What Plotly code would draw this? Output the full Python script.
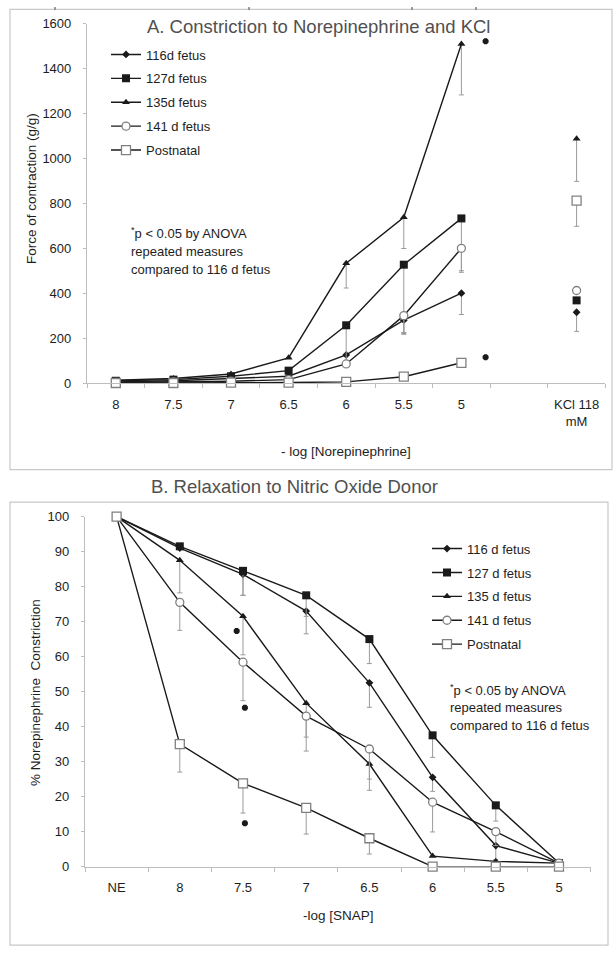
import plotly.graph_objects as go

# ---------------- data ----------------
# Panel A: force of contraction (g/g) vs -log[norepinephrine], plus KCl 118 mM
ne_labels = ["8", "7.5", "7", "6.5", "6", "5.5", "5", "", "KCl 118<br>mM"]
series_names_a = ["116d fetus", "127d fetus", "135d fetus", "141 d fetus", "Postnatal"]
force_116 = [5, 10, 20, 30, 125, 280, 400, None, 315]
force_127 = [10, 15, 30, 55, 257, 527, 733, None, 368]
force_135 = [12, 20, 40, 112, 533, 738, 1510, None, 1088]
force_141 = [3, 5, 8, 15, 85, 300, 600, None, 412]
force_post = [0, 0, 2, 2, 5, 28, 90, None, 812]
err_116 = [0, 0, 0, 0, 0, 55, 95, 0, 85]
err_127 = [0, 0, 0, 0, 160, 310, 240, 0, 0]
err_135 = [0, 0, 0, 0, 110, 139, 227, 0, 190]
err_141 = [0, 0, 0, 0, 0, 80, 100, 0, 0]
err_post = [0, 0, 0, 0, 0, 0, 0, 0, 114]
sig_a_x = [6.42, 6.42]
sig_a_y = [1522, 115]

# Panel B: % norepinephrine constriction vs -log[SNAP]
snap_labels = ["NE", "8", "7.5", "7", "6.5", "6", "5.5", "5"]
series_names_b = ["116 d fetus", "127 d fetus", "135 d fetus", "141 d fetus", "Postnatal"]
pct_116 = [100, 91, 83.5, 73, 52.5, 25.5, 6, 1]
pct_127 = [100, 91.5, 84.5, 77.5, 65, 37.5, 17.5, 1]
pct_135 = [100, 87.5, 71.5, 46.7, 29.3, 3, 1.5, 1]
pct_141 = [100, 75.5, 58.4, 43, 33.6, 18.4, 10, 1]
pct_post = [100, 35, 23.8, 16.8, 8.1, 0, 0, 0]
perr_116 = [0, 0, 6, 6.5, 7, 4, 4, 0]
perr_127 = [0, 0, 7, 6, 7, 6.3, 4.5, 0]
perr_135 = [0, 9.3, 11, 9.7, 7.5, 0, 0, 0]
perr_141 = [0, 8, 11, 10, 8.6, 8.5, 4, 0]
perr_post = [0, 8, 8.5, 7.5, 4.5, 0, 0, 0]
sig_b_x = [1.90, 2.03, 2.03]
sig_b_y = [67.3, 45.4, 12.4]

note_lines = ["<sup>*</sup>p < 0.05 by ANOVA", "repeated measures", "compared to 116 d fetus"]

# ---------------- styling ----------------
W, H = 613, 956
FONT = "Liberation Sans, Arial, sans-serif"
AXIS_GREY = "#bdbdbd"
ERR_GREY = "#9a9a9a"
INK = "#1a1a1a"
TEXT = "#1e1e1e"


def fx(px):
    return px / W


def fy(py):
    return 1 - py / H


styles = [
    dict(symbol="diamond", size=6, color=INK, line=dict(color=INK, width=0)),
    dict(symbol="square", size=8, color=INK, line=dict(color=INK, width=0)),
    dict(symbol="triangle-up", size=7, color=INK, line=dict(color=INK, width=0)),
    dict(symbol="circle", size=8, color="white", line=dict(color="#808080", width=1.3)),
    dict(symbol="square", size=9, color="white", line=dict(color="#808080", width=1.3)),
]

fig = go.Figure()

a_vals = [force_116, force_127, force_135, force_141, force_post]
a_errs = [err_116, err_127, err_135, err_141, err_post]
for i, (name, vals, errs) in enumerate(zip(series_names_a, a_vals, a_errs)):
    fig.add_trace(go.Scatter(
        x=list(range(len(ne_labels))), y=vals, name=name,
        mode="lines+markers", connectgaps=False,
        line=dict(color=INK, width=1.4), marker=styles[i],
        error_y=dict(type="data", symmetric=False, array=[0] * len(errs), arrayminus=errs,
                     color=ERR_GREY, thickness=1, width=2.5),
        xaxis="x", yaxis="y", legend="legend", legendgroup="a%d" % i,
        cliponaxis=False,
    ))

b_vals = [pct_116, pct_127, pct_135, pct_141, pct_post]
b_errs = [perr_116, perr_127, perr_135, perr_141, perr_post]
for i, (name, vals, errs) in enumerate(zip(series_names_b, b_vals, b_errs)):
    fig.add_trace(go.Scatter(
        x=list(range(len(snap_labels))), y=vals, name=name,
        mode="lines+markers",
        line=dict(color=INK, width=1.4), marker=styles[i],
        error_y=dict(type="data", symmetric=False, array=[0] * len(errs), arrayminus=errs,
                     color=ERR_GREY, thickness=1, width=2.5),
        xaxis="x2", yaxis="y2", legend="legend2", legendgroup="b%d" % i,
        cliponaxis=False,
    ))

# significance markers
sig_marker = dict(symbol="asterisk-open", size=5, color=INK, line=dict(color=INK, width=2.4))
fig.add_trace(go.Scatter(x=sig_a_x, y=sig_a_y, mode="markers", marker=sig_marker,
                         showlegend=False, xaxis="x", yaxis="y", cliponaxis=False))
fig.add_trace(go.Scatter(x=sig_b_x, y=sig_b_y, mode="markers", marker=sig_marker,
                         showlegend=False, xaxis="x2", yaxis="y2", cliponaxis=False))


def cat_axis(labels, domain):
    n = len(labels)
    return dict(
        domain=domain, range=[-0.5, n - 0.5], tickmode="array",
        tickvals=list(range(n)), ticktext=labels, ticks="",
        ticklabelstandoff=9,
        showline=True, linecolor=AXIS_GREY, linewidth=1.2, showgrid=False, zeroline=False,
        tickfont=dict(family=FONT, size=13, color=TEXT),
        minor=dict(tickmode="array", tickvals=[k - 0.5 for k in range(n + 1)],
                   ticks="outside", ticklen=4, tickcolor=AXIS_GREY, tickwidth=1.2, showgrid=False),
    )


def val_axis(rng, dtick, domain, anchor):
    return dict(
        domain=domain, range=rng, dtick=dtick, tick0=0, anchor=anchor,
        showline=True, linecolor=AXIS_GREY, linewidth=1.2, showgrid=False, zeroline=False,
        ticks="outside", ticklen=3, tickcolor=AXIS_GREY, ticklabelstandoff=9,
        tickfont=dict(family=FONT, size=13, color=TEXT),
    )


legend_common = dict(
    font=dict(family=FONT, size=13, color=TEXT),
    bgcolor="rgba(0,0,0,0)", traceorder="grouped", tracegroupgap=4,
    itemwidth=30, xanchor="left", yanchor="top",
)


def label(text, x, y, size, color=TEXT, xanchor="center", angle=0):
    return dict(text=text, x=fx(x), y=fy(y), xref="paper", yref="paper",
                xanchor=xanchor, yanchor="middle", textangle=angle, showarrow=False,
                font=dict(family=FONT, size=size, color=color))


annotations = [
    # chart titles
    label("A. Constriction to Norepinephrine and KCl", 318, 20, 18.5, "#505050"),
    label("B. Relaxation to Nitric Oxide Donor", 294, 487, 18.5, "#505050"),
    # axis titles
    label("Force of contraction (g/g)", 31, 185, 13.5, angle=-90),
    label("- log [Norepinephrine]", 346, 452, 13.5),
    label("% Norepinephrine  Constriction", 35, 697, 13.5, angle=-90),
    label("-log [SNAP]", 339, 923, 13.5),
]
# statistics notes
for k, line in enumerate(note_lines):
    annotations.append(label(line, 129, 230 + 18.5 * k, 13, xanchor="left"))
    annotations.append(label(line, 448, 694 + 18 * k, 13, xanchor="left"))

frame = dict(type="rect", xref="paper", yref="paper", line=dict(color="#c8c8c8", width=1.2),
             fillcolor="rgba(0,0,0,0)", layer="below")
shapes = [
    dict(frame, x0=fx(10), x1=fx(612), y0=fy(2.5), y1=fy(470)),
    dict(frame, x0=fx(10), x1=fx(608), y0=fy(503), y1=fy(953)),
]
for xv in [55, 249, 412, 476]:
    shapes.append(dict(type="line", xref="paper", yref="paper", x0=fx(xv), x1=fx(xv),
                       y0=fy(0), y1=fy(3), line=dict(color="#444", width=1)))

fig.update_layout(
    width=W, height=H, margin=dict(l=0, r=0, t=0, b=0),
    paper_bgcolor="white", plot_bgcolor="white",
    xaxis=dict(cat_axis(ne_labels, [fx(87), fx(605.4)]), anchor="y"),
    yaxis=val_axis([0, 1600], 200, [fy(382), fy(17)], "x"),
    xaxis2=dict(cat_axis(snap_labels, [fx(85), fx(590.6)]), anchor="y2"),
    yaxis2=val_axis([0, 100], 10, [fy(873.3), fy(517.7)], "x2"),
    legend=dict(legend_common, x=fx(106), y=fy(33)),
    legend2=dict(legend_common, x=fx(427), y=fy(535)),
    annotations=annotations, shapes=shapes,
    font=dict(family=FONT),
)

fig.write_html("out.html")
